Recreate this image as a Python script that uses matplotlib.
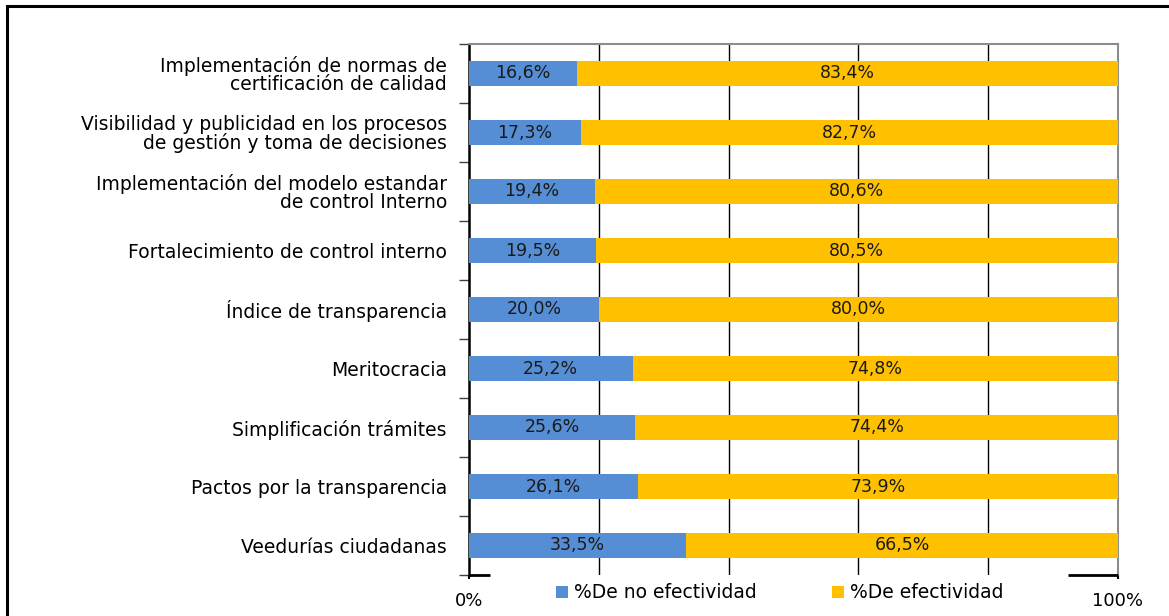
import matplotlib
matplotlib.use("Agg")
import matplotlib.pyplot as plt
from matplotlib.patches import Rectangle

categories = [
    "Implementación de normas de\ncertificación de calidad",
    "Visibilidad y publicidad en los procesos\nde gestión y toma de decisiones",
    "Implementación del modelo estandar\nde control Interno",
    "Fortalecimiento de control interno",
    "Índice de transparencia",
    "Meritocracia",
    "Simplificación trámites",
    "Pactos por la transparencia",
    "Veedurías ciudadanas",
]
no_efectividad = [16.6, 17.3, 19.4, 19.5, 20.0, 25.2, 25.6, 26.1, 33.5]
efectividad = [83.4, 82.7, 80.6, 80.5, 80.0, 74.8, 74.4, 73.9, 66.5]
series_names = ["%De no efectividad", "%De efectividad"]
colors = ["#558ED5", "#FFC000"]

W, H = 1169, 616
fig = plt.figure(figsize=(W / 100, H / 100), dpi=100)
ax = fig.add_axes([469 / W, 1 - 575 / H, (1118 - 469) / W, (575 - 44) / H])

n = len(categories)
ypos = list(range(n))
a = [v / 100 for v in no_efectividad]
b = [v / 100 for v in efectividad]
bh = 0.42
h1 = ax.barh(ypos, a, height=bh, color=colors[0], zorder=3, label=series_names[0])
h2 = ax.barh(ypos, b, left=a, height=bh, color=colors[1], zorder=3, label=series_names[1])

for y, v1, v2, s1, s2 in zip(ypos, a, b, no_efectividad, efectividad):
    ax.text(v1 / 2, y, f"{s1:.1f}%".replace(".", ","), ha="center", va="center",
            fontsize=12.5, color="#1a1a1a", zorder=4)
    ax.text(v1 + v2 / 2, y, f"{s2:.1f}%".replace(".", ","), ha="center", va="center",
            fontsize=12.5, color="#1a1a1a", zorder=4)

ax.set_ylim(n - 0.5, -0.5)
ax.set_xlim(0, 1)

# y ticks: labels at centers, tick marks at boundaries
ax.set_yticks(ypos)
ax.set_yticklabels(categories, fontsize=13.5, linespacing=0.95)
ax.tick_params(axis="y", which="major", length=0, pad=16)
ax.set_yticks([i - 0.5 for i in range(n + 1)], minor=True)
ax.tick_params(axis="y", which="minor", length=7, width=1, color="#404040", direction="out")

ax.set_xticks([0, 1])
ax.set_xticklabels(["0%", "100%"], fontsize=13)
ax.tick_params(axis="x", length=3, width=1.5, pad=9)

for g in [0.2, 0.4, 0.6, 0.8]:
    ax.axvline(g, color="black", lw=1, zorder=1)

ax.spines["left"].set_color("black")
ax.spines["left"].set_linewidth(1.8)
ax.spines["top"].set_color("#8c8c8c")
ax.spines["top"].set_linewidth(1.5)
ax.spines["right"].set_color("#8c8c8c")
ax.spines["right"].set_linewidth(1.5)
ax.spines["bottom"].set_visible(False)
ax.hlines([n - 0.5, n - 0.5], [0, 0.923], [0.033, 1.0], color="black", lw=2, zorder=5, clip_on=False)

leg = fig.legend(handles=[h1, h2], labels=series_names, loc="center",
                 bbox_to_anchor=(0.667, 1 - 593 / H), ncol=2, frameon=False,
                 fontsize=13.5, handlelength=0.65, handleheight=0.65, handletextpad=0.3,
                 columnspacing=4.0, borderaxespad=0)

# outer frame
fig.patches.append(Rectangle((7 / W, -0.1), 1.2, 1.1 - 6 / H, transform=fig.transFigure,
                             fill=False, edgecolor="black", lw=2.2))

fig.savefig("out.png", dpi=100)
